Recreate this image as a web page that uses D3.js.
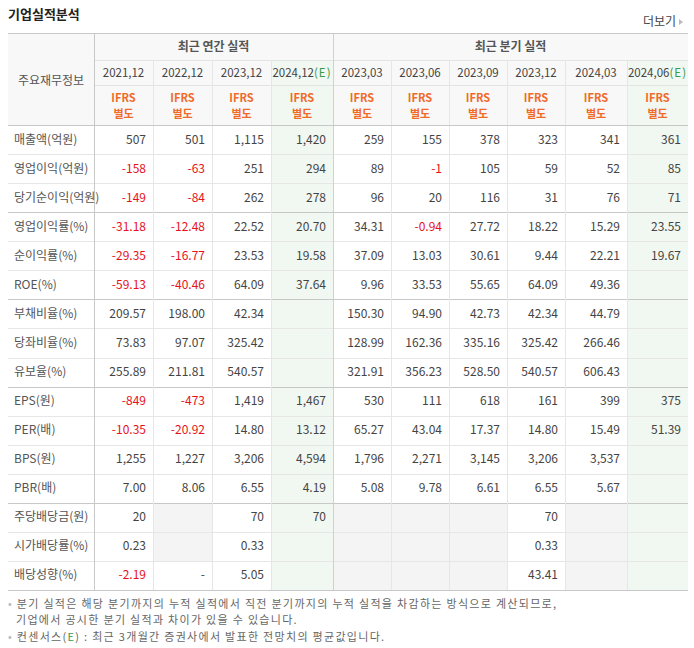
<!DOCTYPE html>
<html><head><meta charset="utf-8">
<script src="https://cdn.jsdelivr.net/npm/d3@7"></script>
<style>body{margin:0;background:#fff}svg{font-family:"Noto Sans CJK KR","Noto Sans",sans-serif}</style>
</head><body><svg id="c" width="694" height="648"></svg>
<script>
// data
const periods = ["2021.12","2022.12","2023.12","2024.12","2023.03","2023.06","2023.09","2023.12","2024.03","2024.06"];
const estimate = [false,false,false,true,false,false,false,false,false,true];
const labels = ["매출액(억원)","영업이익(억원)","당기순이익(억원)","영업이익률(%)","순이익률(%)","ROE(%)","부채비율(%)","당좌비율(%)","유보율(%)","EPS(원)","PER(배)","BPS(원)","PBR(배)","주당배당금(원)","시가배당률(%)","배당성향(%)"];
const values = [
  ["507","501","1,115","1,420","259","155","378","323","341","361"],
  ["-158","-63","251","294","89","-1","105","59","52","85"],
  ["-149","-84","262","278","96","20","116","31","76","71"],
  ["-31.18","-12.48","22.52","20.70","34.31","-0.94","27.72","18.22","15.29","23.55"],
  ["-29.35","-16.77","23.53","19.58","37.09","13.03","30.61","9.44","22.21","19.67"],
  ["-59.13","-40.46","64.09","37.64","9.96","33.53","55.65","64.09","49.36",""],
  ["209.57","198.00","42.34","","150.30","94.90","42.73","42.34","44.79",""],
  ["73.83","97.07","325.42","","128.99","162.36","335.16","325.42","266.46",""],
  ["255.89","211.81","540.57","","321.91","356.23","528.50","540.57","606.43",""],
  ["-849","-473","1,419","1,467","530","111","618","161","399","375"],
  ["-10.35","-20.92","14.80","13.12","65.27","43.04","17.37","14.80","15.49","51.39"],
  ["1,255","1,227","3,206","4,594","1,796","2,271","3,145","3,206","3,537",""],
  ["7.00","8.06","6.55","4.19","5.08","9.78","6.61","6.55","5.67",""],
  ["20","","70","70","","","","70","",""],
  ["0.23","","0.33","","","","","0.33","",""],
  ["-2.19","-","5.05","","","","","43.41","",""]
];
const groupEnds = [2,5,8,12];
const dividendFrom = 13;

// layout
const colEdges = [94,153,212,271,333,391,449,507,565,627,688];
const left = 8, right = 688;
const svg = d3.select("#c");
const y = d3.scaleBand().domain(d3.range(labels.length)).range([125,590]);
const x = i => colEdges[i];

svg.append("text").attr("x",8).attr("y",19).attr("font-size",13).attr("font-weight","bold").attr("fill","#222").text("기업실적분석");
svg.append("text").attr("x",676).attr("y",26).attr("text-anchor","end").attr("font-size",12).attr("fill","#444").text("더보기");
svg.append("path").attr("d","M679,19 L683,22 L679,25 Z").attr("fill","#bbb");

// header backgrounds
svg.append("rect").attr("x",left).attr("y",33).attr("width",right-left).attr("height",92).attr("fill","#f8f8f8");
periods.forEach((p,i)=>{
  if(estimate[i]) svg.append("rect").attr("x",x(i)).attr("y",60).attr("width",x(i+1)-x(i)).attr("height",590-60).attr("fill","#f1f7f1");
});
// dividend empty cells gray
values.forEach((row,r)=>{
  if(r<dividendFrom) return;
  row.forEach((v,i)=>{
    if(v===""&&!estimate[i]) svg.append("rect").attr("x",x(i)).attr("y",y(r)).attr("width",x(i+1)-x(i)).attr("height",y.bandwidth()).attr("fill","#f4f4f4");
  });
});

// lines
const hl=(yy,c)=>svg.append("line").attr("x1",left).attr("x2",right).attr("y1",yy).attr("y2",yy).attr("stroke",c);
const vl=(xx,y1,y2,c)=>svg.append("line").attr("x1",xx).attr("x2",xx).attr("y1",y1).attr("y2",y2).attr("stroke",c);
svg.append("line").attr("x1",94).attr("x2",right).attr("y1",60.5).attr("y2",60.5).attr("stroke","#e3e3e3");
svg.append("line").attr("x1",94).attr("x2",right).attr("y1",85.5).attr("y2",85.5).attr("stroke","#e3e3e3");
labels.forEach((l,r)=>{ if(r>0) hl(Math.round(y(r))+0.5, groupEnds.includes(r-1)?"#c8c8c8":"#e6e6e6"); });
colEdges.slice(1,-1).forEach(e=>{
  const strong = e===333;
  vl(e+0.5, strong?33:60, 590, strong?"#d0d0d0":"#e6e6e6");
});
vl(94.5,33,590,"#c8c8c8");
hl(33.5,"#c8c8c8"); hl(125.5,"#c8c8c8"); hl(590.5,"#c8c8c8");

// header text
svg.append("text").attr("x",51).attr("y",85).attr("text-anchor","middle").attr("font-size",12).attr("fill","#555").text("주요재무정보");
svg.append("text").attr("x",(94+333)/2).attr("y",51).attr("text-anchor","middle").attr("font-size",12).attr("font-weight","bold").attr("fill","#555").text("최근 연간 실적");
svg.append("text").attr("x",(333+688)/2).attr("y",51).attr("text-anchor","middle").attr("font-size",12).attr("font-weight","bold").attr("fill","#555").text("최근 분기 실적");
periods.forEach((p,i)=>{
  const cx=(x(i)+x(i+1))/2;
  const t=svg.append("text").attr("x",cx).attr("y",77).attr("text-anchor","middle").attr("font-size",11.5).attr("fill","#444");
  t.append("tspan").text(p.replace(".",","));
  if(estimate[i]) t.append("tspan").attr("fill","#3a9a4a").attr("letter-spacing",1).text("(E)");
  svg.append("text").attr("x",cx).attr("y",102).attr("text-anchor","middle").attr("font-size",11).attr("font-weight","bold").attr("fill","#f06a28").text("IFRS");
  svg.append("text").attr("x",cx).attr("y",118).attr("text-anchor","middle").attr("font-size",11).attr("font-weight","bold").attr("fill","#f06a28").text("별도");
});

// body
svg.selectAll("text.lab").data(labels).join("text").attr("class","lab")
  .attr("x",14).attr("y",(d,i)=>y(i)+y.bandwidth()/2+4).attr("font-size",12).attr("fill","#555").text(d=>d);
values.forEach((row,r)=>{
  svg.selectAll(null).data(row).join("text")
    .attr("x",(d,i)=>x(i+1)-7).attr("y",y(r)+y.bandwidth()/2+4)
    .attr("text-anchor","end").attr("font-size",12)
    .attr("fill",d=>d.startsWith("-")&&d.length>1?"#e8101a":"#444").text(d=>d);
});

// notes
const ls = 1.3;
[608,624,641].forEach((yy,i)=>{
  const t=svg.append("text").attr("x",i===1?16:8).attr("y",yy).attr("font-size",11).attr("fill","#666").attr("letter-spacing",ls);
  if(i!==1) t.append("tspan").attr("fill","#bbb").text("• ");
  if(i===0) t.append("tspan").text("분기 실적은 해당 분기까지의 누적 실적에서 직전 분기까지의 누적 실적을 차감하는 방식으로 계산되므로,");
  if(i===1) t.append("tspan").text("기업에서 공시한 분기 실적과 차이가 있을 수 있습니다.");
  if(i===2){t.append("tspan").text("컨센서스(");t.append("tspan").attr("fill","#3a9a4a").text("E");t.append("tspan").text(") : 최근 3개월간 증권사에서 발표한 전망치의 평균값입니다.");}
});
</script></body></html>
